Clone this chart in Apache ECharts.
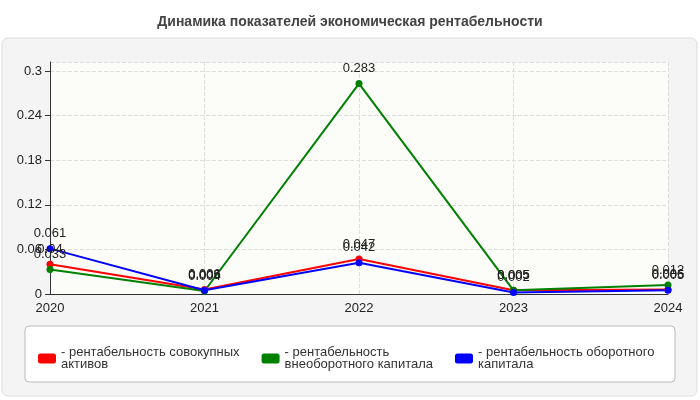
<!DOCTYPE html><html><head><meta charset="utf-8"><script src="https://cdn.jsdelivr.net/npm/echarts@6/dist/echarts.min.js"></script></head><body style="margin:0"><div id="c" style="width:700px;height:400px"></div><script>
const years=['2020','2021','2022','2023','2024'];
const red=[0.04,0.006,0.047,0.005,0.006];
const green=[0.033,0.004,0.283,0.005,0.012];
const blue=[0.061,0.005,0.042,0.002,0.005];
const names=['рентабельность совокупных активов','рентабельность внеоборотного капитала','рентабельность оборотного капитала'];
const wrapped={};wrapped[names[0]]='- рентабельность совокупных\nактивов';wrapped[names[1]]='- рентабельность\nвнеоборотного капитала';wrapped[names[2]]='- рентабельность оборотного\nкапитала';
const ch=echarts.init(document.getElementById('c'));
function s(n,d,c){return {name:n,type:'line',data:d,color:c,symbol:'circle',symbolSize:7,lineStyle:{width:2,color:c},label:{show:true,position:'top',color:'#222',fontSize:13,fontFamily:'Arial'}};}
ch.setOption({
backgroundColor:'#fff',
graphic:[{type:'rect',shape:{x:2,y:38,width:695,height:358,r:6},style:{fill:'#f4f4f4',stroke:'#ddd'},z:-10},
{type:'rect',shape:{x:25,y:326,width:650,height:56,r:4},style:{fill:'#fff',stroke:'#bbb'},z:-5}],
title:{text:'Динамика показателей экономическая рентабельности',left:'center',top:10,textStyle:{fontSize:14,fontWeight:'bold',color:'#444',fontFamily:'Arial'}},
grid:{left:50,right:32,top:62,bottom:106,backgroundColor:'#fcfcf8',show:true,borderWidth:0},
xAxis:{type:'category',data:years,boundaryGap:false,axisLine:{lineStyle:{color:'#333'}},axisTick:{show:false},axisLabel:{color:'#222',fontSize:13,fontFamily:'Arial'},splitLine:{show:true,lineStyle:{type:'dashed',color:'#ddd'}}},
yAxis:{type:'value',min:0,max:0.312,interval:0.06,axisLine:{show:true,lineStyle:{color:'#333'}},axisTick:{show:true},axisLabel:{color:'#222',fontSize:13,fontFamily:'Arial',showMaxLabel:false},splitLine:{lineStyle:{type:'dashed',color:'#ddd'}}},
legend:{bottom:24,left:33,itemGap:22,itemWidth:18,itemHeight:10,icon:'roundRect',formatter:n=>wrapped[n],textStyle:{fontSize:13,color:'#333',fontFamily:'Arial',lineHeight:12}},
series:[s(names[0],red,'#ff0000'),s(names[1],green,'#008000'),s(names[2],blue,'#0000ff')]
});
</script></body></html>
